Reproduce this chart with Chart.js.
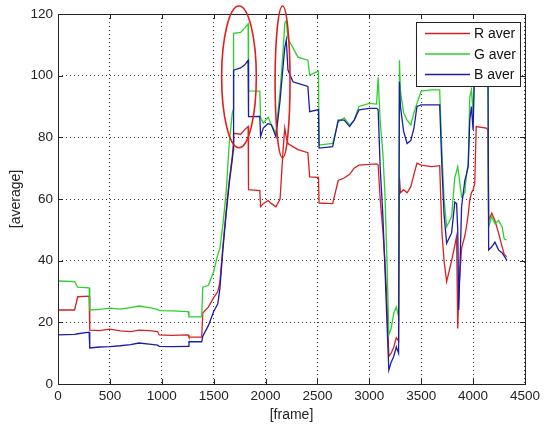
<!DOCTYPE html>
<html>
<head>
<meta charset="utf-8">
<script src="https://cdn.jsdelivr.net/npm/chart.js@4"></script>
<style>
  body { margin: 0; background: #fff; }
  canvas { display: block; }
</style>
</head>
<body>
<canvas id="chart" width="544" height="427"></canvas>
<script>
// frame numbers and per-channel averages
const frames = [
    0, 160, 190, 300, 306, 400, 500, 600, 700, 780,
    880, 960, 975, 1100, 1255, 1262, 1385, 1395, 1450, 1500,
    1540, 1560, 1590, 1620, 1650, 1680, 1690, 1692, 1760, 1800,
    1832, 1836, 1945, 1952, 1978, 2025, 2057, 2100, 2140, 2169,
    2185, 2200, 2216, 2264, 2312, 2408, 2425, 2510, 2516, 2647,
    2700, 2758, 2810, 2854, 2900, 3000, 3070, 3085, 3105, 3130,
    3150, 3170, 3188, 3210, 3236, 3260, 3282, 3290, 3300, 3330,
    3364, 3400, 3430, 3459, 3500, 3600, 3678, 3700, 3720, 3745,
    3793, 3824, 3841, 3852, 3862, 3889, 3920, 3936, 3953, 3968,
    3984, 4000, 4016, 4030, 4127, 4143, 4150, 4180, 4210, 4245,
    4280, 4300, 4325
];
const rAver = [
    24, 24, 28.3, 28.5, 17.5, 17.3, 17.8, 17.2, 17, 17.5,
    17.3, 17, 15.9, 15.8, 15.9, 15.2, 15.2, 23, 25, 28,
    30, 33, 45, 56, 66, 74, 78, 81.3, 81, 82.5,
    83.5, 63, 62.7, 57.5, 58.5, 59.5, 58.5, 57.5, 60, 76,
    83, 80, 78, 77, 76, 75, 67.2, 67, 58.7, 58.5,
    66, 66.8, 68, 70, 71, 71.2, 71.4, 71, 59.7, 50,
    40, 27, 9, 10, 12, 15, 14, 67, 62, 63,
    62, 64, 68, 71.6, 71, 70.5, 70.8, 49, 40, 33.2,
    40, 45, 47.8, 18, 30, 44, 48, 51, 55, 59.7,
    62, 63, 65, 83.5, 83, 82.4, 53, 55.4, 53, 49,
    44.5, 42, 41.3
];
const gAver = [
    33.4, 33.2, 31.4, 31.2, 24, 24.2, 24.6, 24.3, 24.8, 25.3,
    24.8, 24.2, 23.8, 23.7, 23.5, 21.8, 21.8, 31.4, 32, 36.5,
    42, 44, 52, 62, 78, 88, 89, 113.7, 114, 115.5,
    116.8, 95.1, 95, 86.3, 84.6, 86.5, 84, 81.5, 95, 108,
    117, 117.8, 112, 109, 106, 105, 100.2, 101.5, 77.5, 78,
    85, 86.3, 84, 85.6, 90, 91, 90.8, 99.5, 85, 75,
    62, 40, 16, 18, 23, 25, 22, 105, 95, 88,
    85.6, 84, 88, 91, 95, 95.4, 95.4, 75, 60, 51,
    54.3, 67, 69, 70.5, 68, 60.7, 62, 68, 71.6, 93,
    95.4, 88, 108, 108, 108, 108, 51, 54.3, 52, 53,
    51, 47, 46.7
];
const bAver = [
    15.9, 16.1, 16.3, 16.8, 11.7, 12, 12.1, 12.4, 12.8, 13.3,
    12.9, 12.6, 12.2, 12.1, 12.2, 13.7, 13.7, 15.5, 19, 23.5,
    26, 31, 44, 55, 65, 73, 76, 101.8, 102.5, 103.5,
    105, 86.7, 86.8, 80.2, 83, 84.5, 84, 80.2, 92, 103,
    109, 111.6, 101.8, 98, 97.5, 96.5, 88.3, 89, 76.5, 77,
    85.6, 85.6, 83.5, 85.6, 88.9, 89.4, 89.4, 89, 70, 55,
    38, 20, 4.5, 7, 9, 12, 10, 98, 90, 82,
    78, 79, 83, 90, 90.5, 90.5, 90.5, 70, 55, 45.6,
    49, 59, 58.5, 50, 24, 57.5, 66, 68, 70.5, 85.6,
    90, 82.4, 104, 104, 104, 104, 43.5, 44.5, 46, 43.5,
    42.5, 41.5, 40.2
];
const seriesNames = ['R aver', 'G aver', 'B aver'];
const seriesColors = ['#d42222', '#2cd02c', '#1c1ca6'];

// red ellipses marking the two bright regions (centre and radii in data units)
const highlights = [
    { frame: 1744, value: 99.6, rFrame: 167, rValue: 23 },
    { frame: 2164, value: 98, rFrame: 72, rValue: 24.6 }
];

const FONT = '"Liberation Sans", Arial, sans-serif';

const toPoints = arr => frames.map((f, i) => ({ x: f, y: arr[i] }));

// axes box, inward ticks, legend and ellipses (MATLAB look)
const matlabFrame = {
    id: 'matlabFrame',
    afterDraw(chart) {
        const { ctx, chartArea: a, scales } = chart;
        ctx.save();
        ctx.strokeStyle = '#222';
        ctx.lineWidth = 1;
        ctx.setLineDash([]);
        ctx.strokeRect(a.left + 0.5, a.top + 0.5, a.right - a.left, a.bottom - a.top);
        ctx.beginPath();
        scales.x.ticks.forEach(t => {
            const px = Math.round(scales.x.getPixelForValue(t.value)) + 0.5;
            ctx.moveTo(px, a.bottom); ctx.lineTo(px, a.bottom - 5);
            ctx.moveTo(px, a.top); ctx.lineTo(px, a.top + 5);
        });
        scales.y.ticks.forEach(t => {
            const py = Math.round(scales.y.getPixelForValue(t.value)) + 0.5;
            ctx.moveTo(a.left, py); ctx.lineTo(a.left + 5, py);
            ctx.moveTo(a.right, py); ctx.lineTo(a.right - 5, py);
        });
        ctx.stroke();

        // legend
        const lw = 104, lh = 64;
        const lx = a.right - 5 - lw, ly = a.top + 8;
        ctx.fillStyle = '#fff';
        ctx.fillRect(lx, ly, lw, lh);
        ctx.strokeRect(lx + 0.5, ly + 0.5, lw, lh);
        ctx.font = '14px ' + FONT;
        ctx.textBaseline = 'middle';
        seriesNames.forEach((name, i) => {
            const y = ly + 11.5 + i * 20.5;
            ctx.strokeStyle = seriesColors[i];
            ctx.lineWidth = 1.3;
            ctx.beginPath();
            ctx.moveTo(lx + 9, y); ctx.lineTo(lx + 54, y);
            ctx.stroke();
            ctx.fillStyle = '#111';
            ctx.fillText(name, lx + 58, y + 1);
        });

        // ellipses
        ctx.strokeStyle = '#e0201c';
        ctx.lineWidth = 1.6;
        highlights.forEach(h => {
            const cx = scales.x.getPixelForValue(h.frame);
            const cy = scales.y.getPixelForValue(h.value);
            const rx = Math.abs(scales.x.getPixelForValue(h.frame + h.rFrame) - cx);
            const ry = Math.abs(scales.y.getPixelForValue(h.value + h.rValue) - cy);
            ctx.beginPath();
            ctx.ellipse(cx, cy, rx, ry, 0, 0, Math.PI * 2);
            ctx.stroke();
        });
        ctx.restore();
    }
};

var options = {
    type: 'line',
    data: {
        datasets: [rAver, gAver, bAver].map((arr, i) => ({
            label: seriesNames[i],
            data: toPoints(arr),
            borderColor: seriesColors[i],
            borderWidth: 1.3,
            pointRadius: 0,
            tension: 0,
            fill: false,
            order: 3 - i
        }))
    },
    options: {
        responsive: false,
        animation: false,
        layout: { padding: { top: 14, right: 15, left: 0, bottom: 0 } },
        plugins: {
            legend: { display: false },
            tooltip: { enabled: false }
        },
        scales: {
            x: {
                type: 'linear',
                min: 0,
                max: 4500,
                afterFit: s => { s.height = 43; },
                ticks: {
                    stepSize: 500,
                    padding: 4,
                    maxRotation: 0,
                    color: '#222',
                    font: { family: FONT, size: 13.5 },
                    callback: v => String(v)
                },
                grid: { color: 'rgba(0,0,0,0.8)', lineWidth: 1, drawTicks: false },
                border: { display: false, dash: [1, 3] },
                title: {
                    display: true,
                    text: '[frame]',
                    color: '#222',
                    font: { family: FONT, size: 14 },
                    padding: { top: 0, bottom: 3 }
                }
            },
            y: {
                min: 0,
                max: 120,
                afterFit: s => { s.width = 58; },
                ticks: {
                    stepSize: 20,
                    padding: 5,
                    color: '#222',
                    font: { family: FONT, size: 13.5 },
                    callback: v => String(v)
                },
                grid: { color: 'rgba(0,0,0,0.8)', lineWidth: 1, drawTicks: false },
                border: { display: false, dash: [1, 3] },
                title: {
                    display: true,
                    text: '[average]',
                    color: '#222',
                    font: { family: FONT, size: 14 },
                    padding: { top: 8, bottom: 0 }
                }
            }
        }
    },
    plugins: [matlabFrame]
};

var ctx = document.getElementById('chart').getContext('2d');
new Chart(ctx, options);
</script>
</body>
</html>
